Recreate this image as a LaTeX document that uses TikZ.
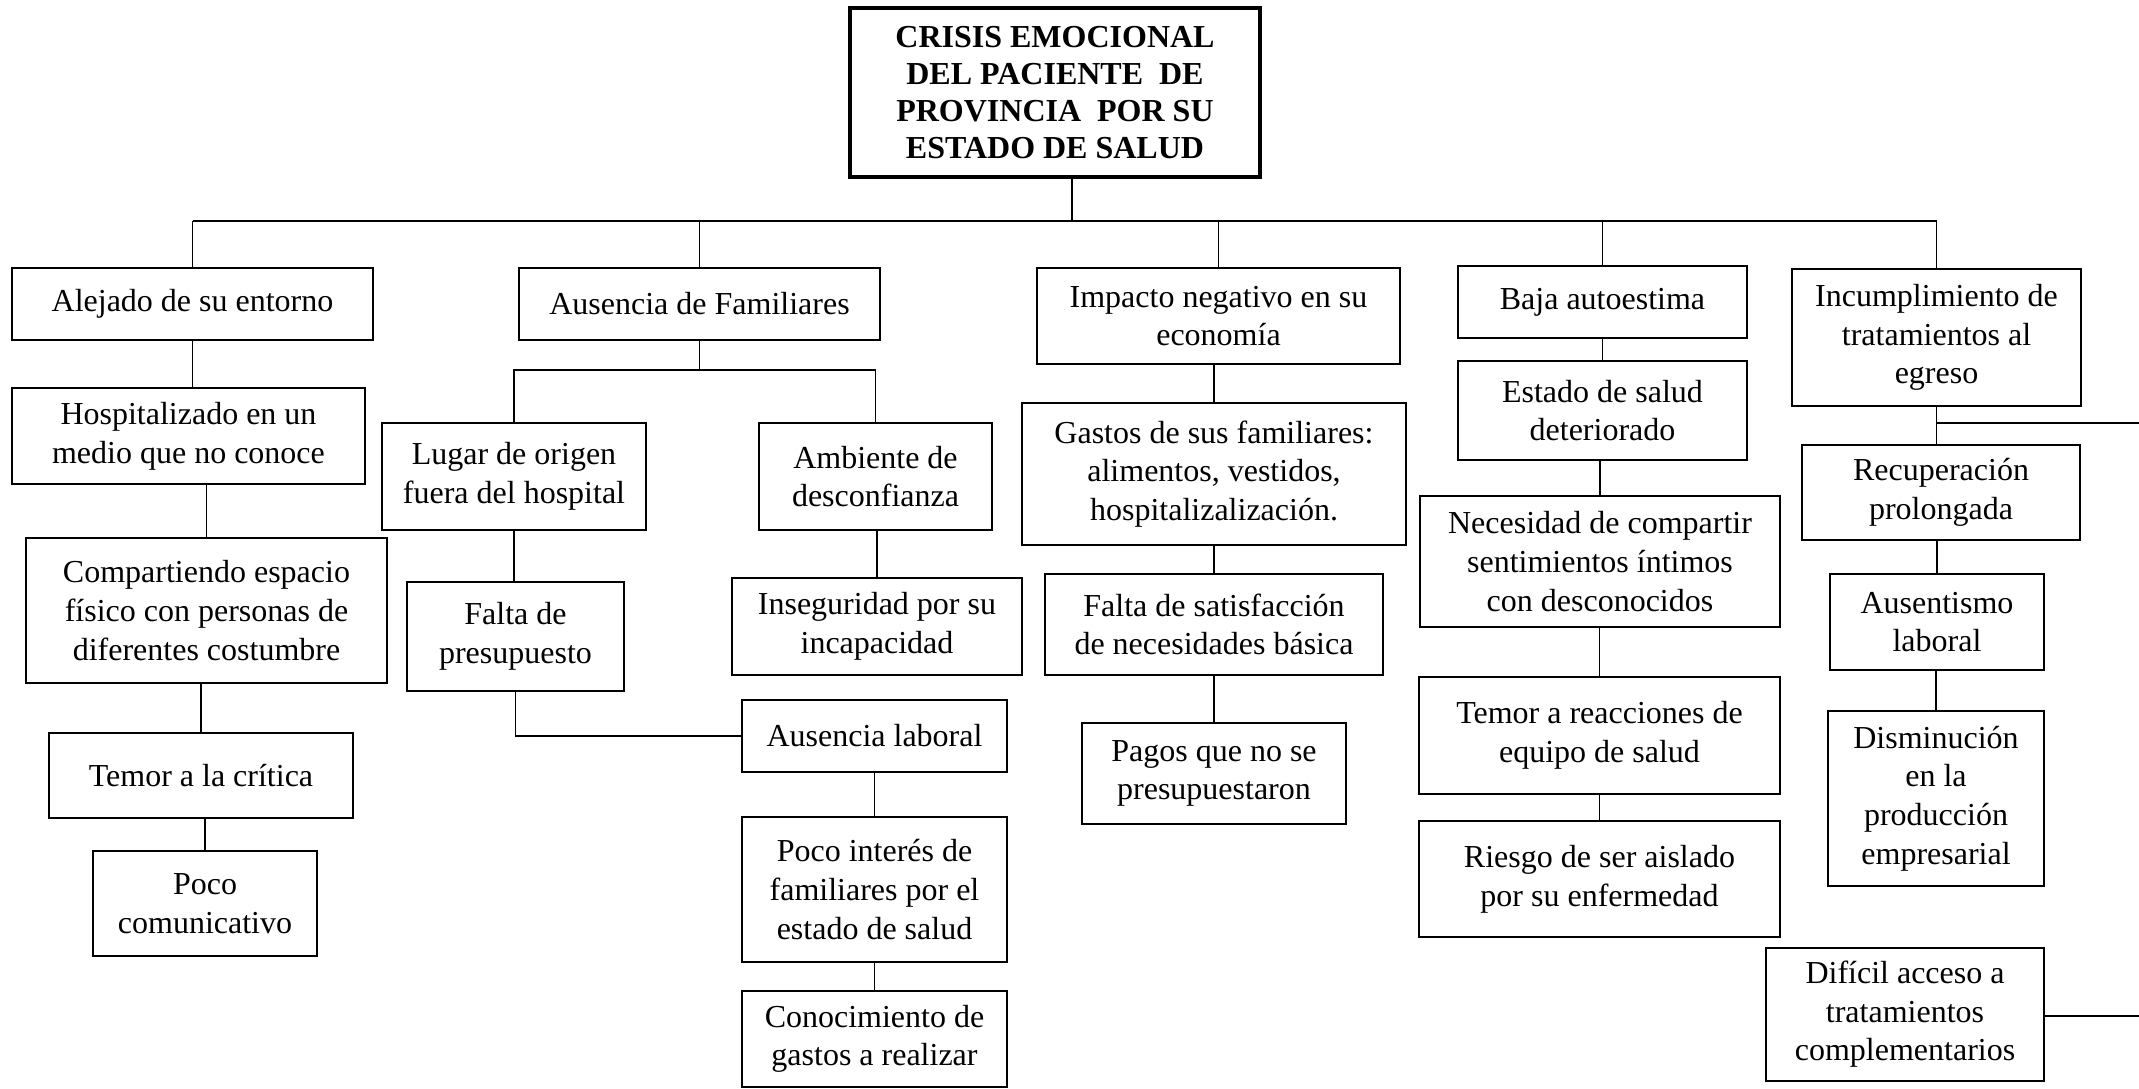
\documentclass[tikz,border=0pt]{standalone}
\usepackage{fontspec}
\setmainfont{Liberation Serif}
\usepackage{tikz}

\begin{document}
\begin{tikzpicture}[x=1pt, y=-1pt,
  caja/.style={draw, line width=1.6pt, align=center, inner sep=0pt,
    font=\fontsize{32}{38.6}\selectfont},
  raiz/.style={caja, line width=4pt, font=\fontsize{32}{37}\selectfont\bfseries},
  enlace/.style={line width=1.4pt}]
\useasboundingbox (0,0) rectangle (2139,1088);
\fill[white] (0,0) rectangle (2139,1088);

% Problema central
\node[raiz, minimum width=410pt, minimum height=169pt] (crisis) at (1055,92.5)
  {CRISIS EMOCIONAL\\DEL PACIENTE\ \ DE\\PROVINCIA\ \ POR SU\\ESTADO DE SALUD};

% Primer nivel
\node[caja, minimum width=361pt, minimum height=72pt] (alejado) at (192.5,304) {Alejado de su entorno};
\node[caja, minimum width=361pt, minimum height=72pt] (ausfam) at (699.5,304) {Ausencia de Familiares};
\node[caja, minimum width=363pt, minimum height=96pt] (impacto) at (1218.5,316) {Impacto negativo en su\\econom\'ia};
\node[caja, minimum width=289pt, minimum height=72pt] (baja) at (1602.5,302) {Baja autoestima};
\node[caja, minimum width=289pt, minimum height=137pt] (incump) at (1936.5,337.5) {Incumplimiento de\\tratamientos al\\egreso};

% Columna: alejado de su entorno
\node[caja, minimum width=353pt, minimum height=96pt] (hospital) at (188.5,436) {Hospitalizado en un\\medio que no conoce};
\node[caja, minimum width=361pt, minimum height=145pt] (compart) at (206.5,610.5) {Compartiendo espacio\\f\'isico con personas de\\diferentes costumbre};
\node[caja, minimum width=304pt, minimum height=85pt] (temorcrit) at (201,775.5) {Temor a la cr\'itica};
\node[caja, minimum width=224pt, minimum height=105pt] (poco) at (205,903.5) {Poco\\comunicativo};

% Columna: ausencia de familiares
\node[caja, minimum width=264pt, minimum height=107pt] (lugar) at (514,476.5) {Lugar de origen\\fuera del hospital};
\node[caja, minimum width=233pt, minimum height=107pt] (ambiente) at (875.5,476.5) {Ambiente de\\desconfianza};
\node[caja, minimum width=217pt, minimum height=109pt] (faltapre) at (515.5,636.5) {Falta de\\presupuesto};
\node[caja, minimum width=290pt, minimum height=97pt] (insegur) at (877,626.5) {Inseguridad por su\\incapacidad};
\node[caja, minimum width=265pt, minimum height=72pt] (auslab) at (874.5,736) {Ausencia laboral};
\node[caja, minimum width=265pt, minimum height=145pt] (pocoint) at (874.5,889.5) {Poco inter\'es de\\familiares por el\\estado de salud};
\node[caja, minimum width=265pt, minimum height=96pt] (conoc) at (874.5,1039) {Conocimiento de\\gastos a realizar};

% Columna: impacto economico
\node[caja, minimum width=384pt, minimum height=142pt] (gastos) at (1214,474) {Gastos de sus familiares:\\alimentos, vestidos,\\hospitalizalizaci\'on.};
\node[caja, minimum width=338pt, minimum height=101pt] (faltasat) at (1214,624.5) {Falta de satisfacci\'on\\de necesidades b\'asica};
\node[caja, minimum width=264pt, minimum height=101pt] (pagos) at (1214,773.5) {Pagos que no se\\presupuestaron};

% Columna: baja autoestima
\node[caja, minimum width=289pt, minimum height=99pt] (estado) at (1602.5,410.5) {Estado de salud\\deteriorado};
\node[caja, minimum width=360pt, minimum height=131pt] (necesidad) at (1600,561.5) {Necesidad de compartir\\sentimientos \'intimos\\con desconocidos};
\node[caja, minimum width=361pt, minimum height=117pt] (temorreac) at (1599.5,735.5) {Temor a reacciones de\\equipo de salud};
\node[caja, minimum width=361pt, minimum height=116pt] (riesgo) at (1599.5,879) {Riesgo de ser aislado\\por su enfermedad};

% Columna: incumplimiento
\node[caja, minimum width=278pt, minimum height=95pt] (recup) at (1941,492.5) {Recuperaci\'on\\prolongada};
\node[caja, minimum width=214pt, minimum height=96pt] (ausent) at (1937,622) {Ausentismo\\laboral};
\node[caja, minimum width=216pt, minimum height=175pt] (dismin) at (1936,798.5) {Disminuci\'on\\en la\\producci\'on\\empresarial};
\node[caja, minimum width=278pt, minimum height=133pt] (dificil) at (1905,1014.5) {Dif\'icil acceso a\\tratamientos\\complementarios};

% Conectores
\coordinate (bus) at (1072,221);
\draw[enlace] (crisis.south -| bus) -- (bus);
\draw[enlace] (alejado.north |- bus) -- (incump.north |- bus);
\foreach \n in {alejado,ausfam,impacto,baja,incump}
  \draw[enlace] (\n.north |- bus) -- (\n.north);

\draw[enlace] (alejado.south) -- (alejado.south |- hospital.north);
\draw[enlace] (hospital.south -| compart.north) -- (compart.north);
\draw[enlace] (compart.south -| temorcrit.north) -- (temorcrit.north);
\draw[enlace] (temorcrit.south -| poco.north) -- (poco.north);

\draw[enlace] (ausfam.south) -- ++(0,29) coordinate (rama);
\draw[enlace] (lugar.north) |- (rama) -| (ambiente.north);
\draw[enlace] (lugar.south) -- (lugar.south |- faltapre.north);
\draw[enlace] (faltapre.south) |- (auslab.west);
\draw[enlace] (ambiente.south -| insegur.north) -- (insegur.north);
\draw[enlace] (auslab.south) -- (pocoint.north);
\draw[enlace] (pocoint.south) -- (conoc.north);

\draw[enlace] (impacto.south -| gastos.north) -- (gastos.north);
\draw[enlace] (gastos.south) -- (faltasat.north);
\draw[enlace] (faltasat.south) -- (pagos.north);

\draw[enlace] (baja.south -| estado.north) -- (estado.north);
\draw[enlace] (estado.south -| necesidad.north) -- (necesidad.north);
\draw[enlace] (necesidad.south -| temorreac.north) -- (temorreac.north);
\draw[enlace] (temorreac.south) -- (riesgo.north);

\coordinate (bordeA) at (2139,423);
\coordinate (bordeB) at (2139,1016);
\draw[enlace] (incump.south) -- (incump.south |- recup.north);
\draw[enlace] (incump.south |- bordeA) -- (bordeA);
\draw[enlace] (recup.south -| ausent.north) -- (ausent.north);
\draw[enlace] (ausent.south -| dismin.north) -- (dismin.north);
\draw[enlace] (dificil.east |- bordeB) -- (bordeB);
\end{tikzpicture}
\end{document}
